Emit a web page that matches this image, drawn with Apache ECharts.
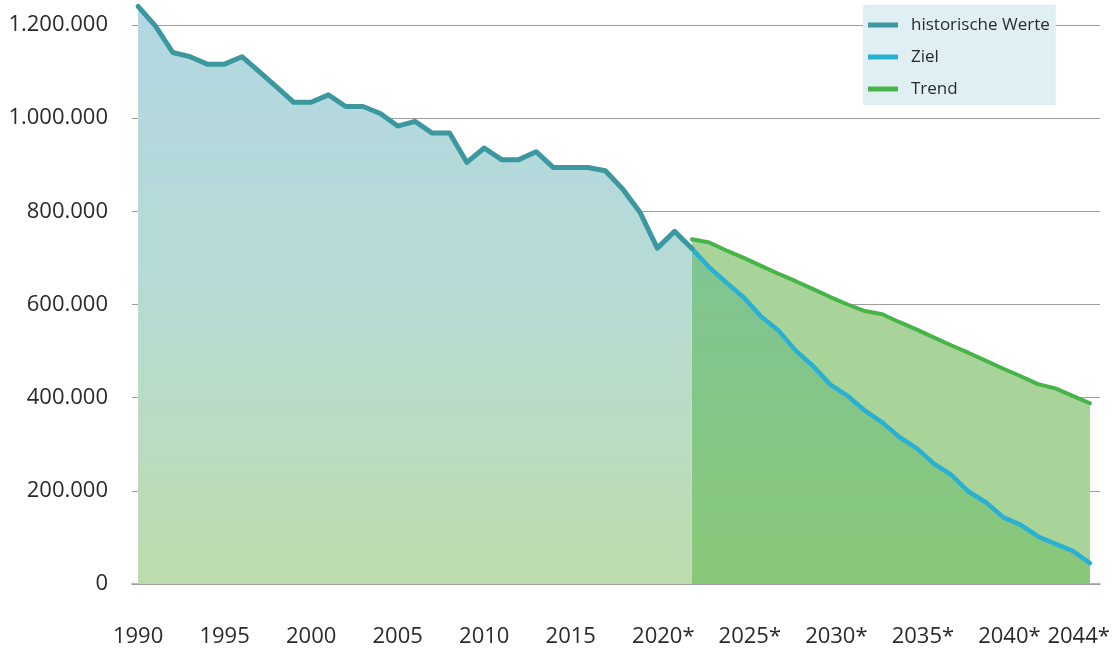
<!DOCTYPE html>
<html>
<head>
<meta charset="utf-8">
<script src="https://cdn.jsdelivr.net/npm/echarts@6/dist/echarts.min.js"></script>
<style>html,body{margin:0;padding:0;background:#fff;}#c{width:1116px;height:648px;}</style>
</head>
<body>
<div id="c"></div>
<script>
const histYears = [1990,1991,1992,1993,1994,1995,1996,1997,1998,1999,2000,2001,2002,2003,2004,2005,2006,2007,2008,2009,2010,2011,2012,2013,2014,2015,2016,2017,2018,2019,2020,2021,2022];
const histValues = [1240000,1198000,1141000,1132000,1116000,1116000,1132000,1100000,1067000,1034000,1034000,1050000,1025000,1025000,1010000,983000,993000,968000,968000,905000,936000,911000,911000,928000,894000,894000,894000,887000,848000,798000,721000,757000,720000];
const futureYears = [2022,2023,2024,2025,2026,2027,2028,2029,2030,2031,2032,2033,2034,2035,2036,2037,2038,2039,2040,2041,2042,2043,2044,2045];
const zielValues = [720000,680000,647000,615000,574000,544000,501000,468000,428000,404000,372000,347000,315000,291000,258000,234000,198000,175000,143000,127000,102000,86000,71000,45000];
const trendValues = [740000,733000,716000,700000,683000,666000,650000,633000,616000,600000,586000,579000,562000,546000,529000,512000,496000,479000,462000,446000,429000,420000,404000,388000];
const xTickLabels = [1990,1995,2000,2005,2010,2015,2020,2025,2030,2035,2040,2044];
const yTicks = [0,200000,400000,600000,800000,1000000,1200000];
const seriesNames = ['historische Werte','Ziel','Trend'];

const zip = (xs, ys) => xs.map((x, i) => [x, ys[i]]);
const FONT = '"Open Sans", "Noto Sans", sans-serif';
const chart = echarts.init(document.getElementById('c'), null, {renderer: 'canvas'});
const fmtY = v => v === 0 ? '0' : String(v).replace(/\B(?=(\d{3})+(?!\d))/g, '.');

chart.setOption({
  animation: false,
  backgroundColor: '#ffffff',
  grid: {left: 132, right: 16, top: 25, bottom: 63, containLabel: false},
  legend: {
    data: seriesNames,
    orient: 'vertical',
    left: 863, top: 5,
    backgroundColor: '#e0eff4',
    padding: [10, 6, 6, 5],
    itemGap: 12,
    itemWidth: 30, itemHeight: 5,
    icon: 'rect',
    textStyle: {fontFamily: FONT, fontSize: 17, lineHeight: 20, color: '#2a2a2a', padding: [0, 0, 0, 8]}
  },
  xAxis: {
    type: 'value',
    min: 1989.65, max: 2045.58,
    splitLine: {show: false},
    axisTick: {show: false},
    axisLine: {show: true, lineStyle: {color: '#a0a0a0', width: 1.5}},
    axisLabel: {
      customValues: xTickLabels,
      margin: 42,
      fontFamily: FONT, fontSize: 22, color: '#2a2a2a',
      formatter: v => v >= 2020 ? '{s|' + v + '*}' : String(v),
      rich: {s: {fontFamily: FONT, fontSize: 22, color: '#2a2a2a', padding: [0, 0, 0, 12]}}
    }
  },
  yAxis: {
    type: 'value',
    min: 0, max: 1200000, interval: 200000,
    axisLine: {show: false},
    axisTick: {show: false},
    splitLine: {show: true, lineStyle: {color: '#9e9e9e', width: 1.2}},
    axisLabel: {margin: 24, padding: [5, 0, 0, 0], fontFamily: FONT, fontSize: 22, color: '#2a2a2a', formatter: fmtY}
  },
  series: [
    {
      name: 'historische Werte', type: 'line', data: zip(histYears, histValues),
      showSymbol: false, clip: false, z: 3,
      color: '#3a989e',
      lineStyle: {color: '#3a989e', width: 5, join: 'round', cap: 'round'},
      areaStyle: {
        origin: 'start', opacity: 1,
        color: new echarts.graphic.LinearGradient(0, 0, 0, 1, [
          {offset: 0, color: '#b2d7e3'}, {offset: 0.5, color: '#b7dbd4'}, {offset: 1, color: '#bddcad'}
        ])
      },
      markLine: {
        silent: true, symbol: 'none', label: {show: false},
        lineStyle: {color: '#a6d2e6', width: 1.5, type: 'solid'},
        data: [[{coord: [histYears[0], 0]}, {coord: [histYears[0], histValues[0]]}]]
      }
    },
    {
      name: 'Trend', type: 'line', data: zip(futureYears, trendValues),
      showSymbol: false, clip: false, z: 2,
      color: '#46b449',
      lineStyle: {color: '#46b449', width: 4, join: 'round', cap: 'round'},
      areaStyle: {origin: 'start', color: '#a8d499', opacity: 1}
    },
    {
      name: 'Ziel', type: 'line', data: zip(futureYears, zielValues),
      showSymbol: false, clip: false, z: 2,
      color: '#2ab0d3',
      lineStyle: {color: '#2ab0d3', width: 4.5, join: 'round', cap: 'round'},
      areaStyle: {
        origin: 'start', opacity: 1,
        color: new echarts.graphic.LinearGradient(0, 0, 0, 1, [
          {offset: 0, color: '#7fc493'}, {offset: 1, color: '#89c879'}
        ])
      }
    }
  ]
});
</script>
</body>
</html>
